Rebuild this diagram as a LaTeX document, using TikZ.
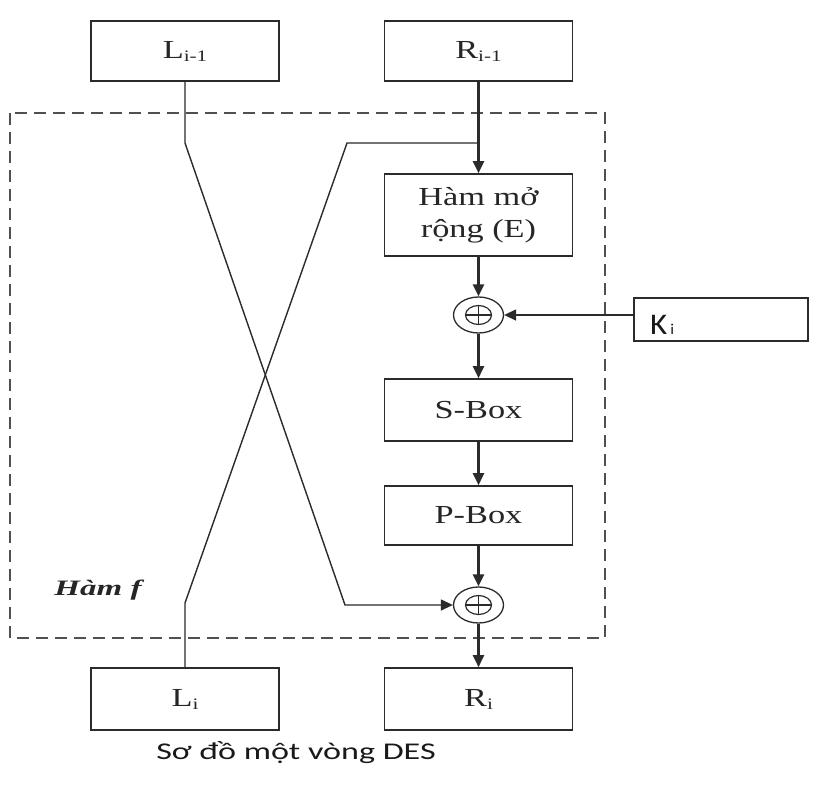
\documentclass[tikz,border=0pt]{standalone}
\usepackage{fontspec}
\setmainfont{Liberation Serif}[FakeStretch=1.32]
\newfontfamily\hfont{Liberation Serif}[FakeStretch=1.5]
\newfontfamily\capfont{Carlito}[FakeStretch=1.42]
\newfontfamily\kfont{Carlito}[FakeStretch=1.1]
\usetikzlibrary{arrows.meta,shapes.geometric}
\newcommand{\mysub}[1]{\raisebox{-3pt}{\fontsize{16}{16}\selectfont #1}}
\definecolor{ln}{HTML}{2B2B2B}
\definecolor{dsh}{HTML}{505050}
\begin{document}
\begin{tikzpicture}[x=1pt,y=-1pt,
  boxn/.style={draw=ln, line width=1.6pt, rectangle, inner sep=0pt,
    minimum width=188pt, font=\fontsize{26}{32}\selectfont, align=center, text=black!85},
  thinl/.style={draw=ln, line width=1.4pt},
  tip/.style={-{Triangle[length=12pt,width=11pt]}},
  flow/.style={draw=ln, line width=2.4pt, tip},
  xorn/.style={draw=ln, line width=1.3pt, ellipse, minimum width=50pt, minimum height=36pt, inner sep=0pt}
]
\fill[white] (0,0) rectangle (825,787);
\useasboundingbox (0,0) rectangle (825,787);

% dashed frame
\draw[dsh, line width=2.2pt, dash pattern=on 12pt off 7pt] (10,113) rectangle (605,638);

% boxes
\node[boxn, minimum height=60pt] (L1) at (185,51) {L\mysub{i-1}};
\node[boxn, minimum height=60pt] (R1) at (478.5,51) {R\mysub{i-1}};
\node[boxn, minimum height=82pt] (E) at (478.5,215) {Hàm mở\\rộng (E)};
\node[boxn, minimum height=62pt] (S) at (478.5,410) {S-Box};
\node[boxn, minimum height=59pt] (P) at (478.5,515.5) {P-Box};
\node[boxn, minimum height=62pt] (L) at (185,699) {L\mysub{i}};
\node[boxn, minimum height=62pt] (R) at (478.5,699) {R\mysub{i}};
\node[draw=ln, line width=1.6pt, rectangle, minimum width=174pt, minimum height=43pt] (K) at (721,319.5) {};
\node[anchor=base west, font=\kfont\fontsize{30}{30}\selectfont, text=black!90, inner sep=0pt] (Kt) at (650,334.5) {K\hspace{3pt}{\fontsize{15}{15}\selectfont i}};

% xor nodes
\node[xorn] (X1) at (478.5,315) {};
\node[xorn] (X2) at (478.5,605) {};
\foreach \n in {X1,X2}{
  \draw[ln, line width=1.2pt] (\n.center) ellipse [x radius=13pt, y radius=9.5pt];
  \draw[ln, line width=1.2pt] ([xshift=-13pt]\n.center) -- ([xshift=13pt]\n.center);
  \draw[ln, line width=1.2pt] ([yshift=-9.5pt]\n.center) -- ([yshift=9.5pt]\n.center);
}

% labels
\node[font=\hfont\bfseries\itshape\fontsize{22}{22}\selectfont, text=black!85] (hf) at (98,590) {Hàm f};
\node[font=\capfont\fontsize{24}{24}\selectfont, text=black!90] (cap) at (296,753) {Sơ đồ một vòng DES};

% main flow
\draw[flow] (R1.south) -- (E.north);
\draw[flow] (E.south) -- (X1.north);
\draw[flow] (X1.south) -- (S.north);
\draw[flow] (S.south) -- (P.north);
\draw[flow] (P.south) -- (X2.north);
\draw[flow] (X2.south) -- (R.north);
\draw[thinl, tip] (K.west |- X1.east) -- (X1.east);

% crossing lines
\coordinate (rb) at (478.5,143);
\coordinate (lb) at (185,143);
\draw[thinl, tip] (L1.south) -- (lb) -- (345,605) -- (X2.west);
\draw[thinl] (rb) -- (347,143) -- (185,603) -- (L.north);
\end{tikzpicture}
\end{document}
